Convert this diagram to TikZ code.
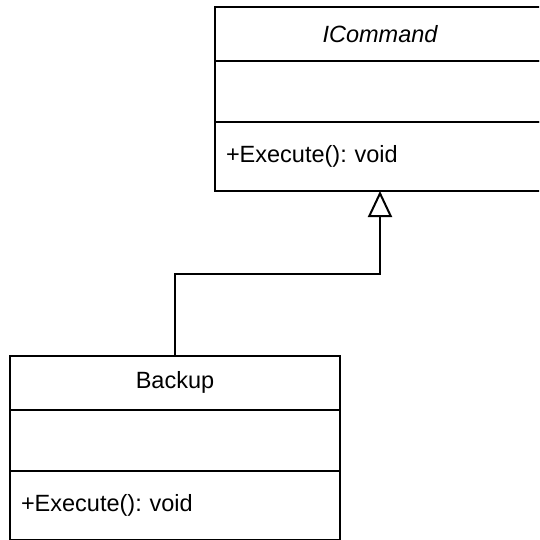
\documentclass[tikz,border=0pt]{standalone}
\usepackage{fontspec}
\setmainfont{Liberation Sans}
\frenchspacing
\usetikzlibrary{positioning,arrows.meta}

\begin{document}
\begin{tikzpicture}[x=1pt, y=-1pt,
  umlbox/.style={rectangle, draw=black, line width=2pt, minimum width=330pt, inner sep=0pt, outer sep=0pt, font=\fontsize{23.5}{27}\selectfont},
  umlhead/.style={umlbox, minimum height=54pt},
  umlattr/.style={umlbox, minimum height=61pt},
  umlops/.style={umlbox, minimum height=69pt, inner xsep=11pt, text width=308pt, align=left},
]
\useasboundingbox (0,0) rectangle (539,540);
\clip (0,0) rectangle (539,540);

% Interface
\node[umlhead] (cmdHead) at (380,34) {\itshape ICommand};
\node[umlattr, below=0pt of cmdHead] (cmdAttr) {};
\node[umlops, below=0pt of cmdAttr] (cmdOps) {+Execute(): void};

% Concrete command
\node[umlhead] (bkHead) at (175,382.5) {Backup};
\node[umlattr, below=0pt of bkHead] (bkAttr) {};
\node[umlops, below=0pt of bkAttr] (bkOps) {+Execute(): void};

% Realisation
\coordinate (elbow) at (cmdOps.south |- 0,274);
\draw[line width=2pt, -{Triangle[open, length=26pt, width=24pt]}] (bkHead.north) |- (elbow) -- (cmdOps.south);
\end{tikzpicture}
\end{document}
